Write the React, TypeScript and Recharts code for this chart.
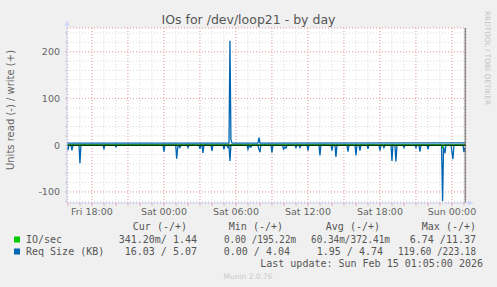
// @ts-nocheck
import React from "react";
import { LineChart, Line, XAxis, YAxis, CartesianGrid, ReferenceLine } from "recharts";

const W = 497;
const H = 287;

// hours relative to Sat 00:00
const X_DOMAIN = [-8.08, 25.17];
const Y_DOMAIN = [-123.6, 250.7];

const xLabelTicks = [-6, 0, 6, 12, 18, 24];
const xTickLabels = ["Fri 18:00", "Sat 00:00", "Sat 06:00", "Sat 12:00", "Sat 18:00", "Sun 00:00"];
const yLabelTicks = [-100, 0, 100, 200];

const minorHours = Array.from({ length: 34 }, (_, i) => i - 8);
const majorHours = [-6, -3, 0, 3, 6, 9, 12, 15, 18, 21, 24];
const minorY = Array.from({ length: 19 }, (_, i) => -120 + i * 20);

// Req Size (KB), read side (drawn negative)
const reqRead = [
  [-8.08, -3], [-8.0, -10.7], [-7.92, 0], [-7.75, 0], [-7.67, -11], [-7.58, 0],
  [-7.08, 0], [-7.0, -38.6], [-6.92, 0], [-5.08, 0], [-5.0, -7], [-4.92, 0],
  [-4.08, 0], [-4.0, -3.6], [-3.92, 0], [-0.08, 0], [0, -14], [0.08, 0],
  [0.98, 0], [1.06, -29], [1.15, -4], [1.25, 0], [1.33, -5], [1.42, 0],
  [1.92, 0], [2.0, -5], [2.08, 0], [2.92, 0], [3.0, -8], [3.08, 0], [3.17, 0], [3.25, -16.4], [3.33, 0],
  [3.92, 0], [4.0, -12], [4.08, 0], [4.92, 0], [5.0, -8.6], [5.08, 0],
  [5.25, 0], [5.33, -5], [5.42, -2], [5.5, -33.5], [5.58, 0],
  [6.92, 0], [7.0, -8.6], [7.08, -2], [7.17, -3], [7.25, -4], [7.33, 0],
  [7.83, 0], [7.92, -8.6], [8.0, -15], [8.08, 0], [8.92, 0], [9.0, -15.7], [9.08, 0],
  [9.88, 0], [9.97, -8.6], [10.08, -4], [10.17, -6], [10.25, 0],
  [10.92, 0], [11.0, -5], [11.08, 0], [11.25, 0], [11.33, -5], [11.42, 0],
  [11.92, 0], [12.0, -11.4], [12.08, 0], [12.92, 0], [13.0, -22], [13.08, 0],
  [13.92, 0], [14.0, -11.4], [14.08, 0], [14.25, 0], [14.33, -25], [14.42, 0],
  [15.25, 0], [15.33, -14], [15.42, 0], [15.92, 0], [16.0, -22], [16.08, 0],
  [16.25, 0], [16.33, -11.4], [16.42, 0], [16.92, 0], [17.0, -8], [17.08, 0],
  [17.92, 0], [18.0, -11.4], [18.08, 0], [18.25, 0], [18.33, -5], [18.42, 0],
  [18.92, 0], [19.0, -33.5], [19.08, 0], [19.25, 0], [19.33, -35], [19.42, 0],
  [19.92, 0], [20.0, -5], [20.08, 0], [20.92, 0], [21.0, -5], [21.08, 0],
  [21.25, 0], [21.33, -13.6], [21.42, 0], [21.92, 0], [22.0, -8.6], [22.08, 0],
  [23.13, 0], [23.22, -119.6], [23.3, -3], [23.42, -17], [23.5, 0],
  [23.92, 0], [24.08, -30], [24.17, 0], [24.92, 0], [25.0, -15], [25.08, -6],
];

// Req Size (KB), write side
const reqWrite = [
  [-8.08, 4.5], [5.42, 4.5], [5.5, 223.18], [5.58, 12], [5.67, 4.5],
  [7.83, 4.5], [7.92, 16.5], [8.0, 4.5], [25.08, 5.07],
];

// IO/sec write side: small bumps on a low baseline
const ioWriteBase = 0.2;
const ioWriteBumps = [
  [-7.96, 2.4], [-7.63, 2.4], [-6.96, 2.4], [-6.63, 2.4], [-5.96, 2.4], [-5.63, 2.4],
  [-4.96, 2.4], [-4.63, 2.4], [-3.96, 2.4], [-3.63, 2.4], [-2.96, 2.4], [-2.63, 2.4],
  [-1.96, 2.4], [-1.63, 2.4], [-0.96, 2.4], [-0.63, 2.4], [0.04, 2.4], [0.37, 2.4],
  [1.04, 2.4], [1.37, 2.4], [2.04, 2.4], [2.37, 2.4], [3.04, 2.4], [3.37, 2.4],
  [4.04, 2.4], [4.37, 2.4], [5.04, 2.4], [5.37, 2.4], [6.04, 2.4], [6.37, 2.4],
  [7.04, 2.4], [7.37, 2.4], [8.04, 2.4], [8.37, 2.4], [9.04, 2.4], [9.37, 2.4],
  [10.04, 2.4], [10.37, 2.4], [11.04, 2.4], [11.37, 2.4], [12.04, 2.4], [12.37, 2.4],
  [13.04, 2.4], [13.37, 2.4], [14.04, 2.4], [14.37, 2.4], [15.04, 2.4], [15.37, 2.4],
  [16.04, 2.4], [16.37, 2.4], [17.04, 2.4], [17.37, 2.4], [18.04, 2.4], [18.37, 2.4],
  [19.04, 2.4], [19.37, 2.4], [20.04, 2.4], [20.37, 2.4], [21.04, 2.4], [21.37, 2.4],
  [22.04, 2.4], [22.37, 2.4], [23.04, 2.4], [23.37, 2.4], [24.04, 2.4], [24.37, 2.4],
  [25.04, 2.4],
];

// IO/sec read side (drawn negative)
const ioReadDips = [
  [-7.0, -2], [1.06, -1.5], [5.5, -2], [19.0, -2], [19.33, -2], [23.22, -6.74], [24.08, -2],
];

const legendHeader = [["Cur (-/+)", 187], ["Min (-/+)", 283], ["Avg (-/+)", 380], ["Max (-/+)", 476]];
// [text, right edge, squeezed width (the original prints some cells one char too tight)]
const legendRows = [
  {
    name: "IO/sec",
    color: "#00cc00",
    cells: [["341.20m/ 1.44", 197], ["0.00 /195.22m", 296, 72], ["60.34m/372.41m", 390, 79], ["6.74 /11.37", 476]],
  },
  {
    name: "Req Size (KB)",
    color: "#0066b3",
    cells: [["16.03 / 5.07", 197], ["0.00 / 4.04", 290], ["1.95 / 4.74", 383], ["119.60 /223.18", 476, 78]],
  },
];

const toPts = (arr) => arr.map(([h, v]) => ({ h, v }));
const bumpsToPts = (base, arr) => {
  const out = [{ h: X_DOMAIN[0], v: base }];
  arr.forEach(([h, v]) => {
    out.push({ h: h - 0.05, v: base }, { h, v }, { h: h + 0.05, v: base });
  });
  out.push({ h: 25.08, v: base });
  return out;
};

const FONT = "'DejaVu Sans', sans-serif";
const MONO = "'DejaVu Sans Mono', monospace";

export default function App() {
  const xFmt = (v) => {
    const i = xLabelTicks.indexOf(v);
    return i >= 0 ? xTickLabels[i] : "";
  };
  const yFmt = (v) => (yLabelTicks.includes(v) ? String(v) : "");

  return (
    <div style={{ position: "absolute", left: 0, top: 0, width: W, height: H, background: "#f0f0f0", overflow: "hidden" }}>
      <LineChart width={W} height={H} margin={{ top: 28, right: 31, bottom: 64, left: 27 }}>
        <CartesianGrid fill="#ffffff" stroke="#d9d9d9" strokeDasharray="1 2" />
        <CartesianGrid xAxisId="major" yAxisId="major" fill="none" stroke="#eba3a3" strokeDasharray="1 2" />
        <XAxis
          dataKey="h"
          type="number"
          domain={X_DOMAIN}
          allowDataOverflow
          ticks={minorHours}
          interval={0}
          tickFormatter={xFmt}
          tickSize={3}
          tickMargin={2}
          tickLine={{ stroke: "#e0b0b0" }}
          axisLine={{ stroke: "#cfd6f8" }}
          tick={{ fontSize: 9.5, fill: "#666", fontFamily: FONT }}
          height={20}
        />
        <XAxis xAxisId="major" dataKey="h" type="number" domain={X_DOMAIN} allowDataOverflow ticks={majorHours} hide />
        <YAxis
          type="number"
          domain={Y_DOMAIN}
          allowDataOverflow
          ticks={minorY}
          interval={0}
          tickFormatter={yFmt}
          tickSize={2}
          tickMargin={5}
          tickLine={{ stroke: "#c8c8c8" }}
          axisLine={{ stroke: "#cfd6f8" }}
          tick={{ fontSize: 9.5, fill: "#666", fontFamily: FONT }}
          width={40}
        />
        <YAxis yAxisId="major" type="number" domain={Y_DOMAIN} allowDataOverflow ticks={yLabelTicks} hide />
        <Line data={toPts(reqRead)} dataKey="v" type="linear" stroke="#0066b3" strokeWidth={1.3} dot={false} isAnimationActive={false} />
        <Line data={toPts(reqWrite)} dataKey="v" type="linear" stroke="#0066b3" strokeWidth={1.3} dot={false} isAnimationActive={false} />
        <Line data={bumpsToPts(0, ioReadDips)} dataKey="v" type="linear" stroke="#00cc00" strokeWidth={1} dot={false} isAnimationActive={false} />
        <Line data={bumpsToPts(ioWriteBase, ioWriteBumps)} dataKey="v" type="linear" stroke="#00cc00" strokeWidth={1} dot={false} isAnimationActive={false} />
        <ReferenceLine y={0} stroke="#000000" strokeWidth={1} />
        <ReferenceLine x={25.1} stroke="#555555" strokeWidth={1} />
      </LineChart>
      <svg width={W} height={H} style={{ position: "absolute", left: 0, top: 0, pointerEvents: "none" }}>
        <text x={248.5} y={23.5} textAnchor="middle" fontSize={12.5} fill="#555" fontFamily={FONT}>
          IOs for /dev/loop21 - by day
        </text>
        <text x={13.6} y={110} transform="rotate(-90 13.6 110)" textAnchor="middle" fontSize={10} fill="#666" fontFamily={FONT}>
          Units read (-) / write (+)
        </text>
        <text x={484.5} y={58} transform="rotate(90 484.5 58)" textAnchor="middle" fontSize={7.3} fill="#c4c4c4" fontFamily={FONT}>
          RRDTOOL / TOBI OETIKER
        </text>
        <line x1={67} y1={28} x2={67} y2={24} stroke="#cfd6f8" />
        <polygon points="67,20 64.5,26 69.5,26" fill="#cfd6f8" />
        <line x1={466} y1={203} x2={469} y2={203} stroke="#cfd6f8" />
        <polygon points="474,203 468,200.5 468,205.5" fill="#cfd6f8" />
        {legendHeader.map(([t, x]) => (
          <text key={t} x={x} y={230.3} textAnchor="end" fontSize={10} fill="#555" fontFamily={MONO} style={{ whiteSpace: "pre" }}>
            {t}
          </text>
        ))}
        {legendRows.map((r, i) => (
          <g key={r.name}>
            <rect x={14} y={236.5 + i * 12} width={6} height={6} fill={r.color} />
            <text x={26} y={243 + i * 12} fontSize={10} fill="#555" fontFamily={MONO} style={{ whiteSpace: "pre" }}>
              {r.name}
            </text>
            {r.cells.map(([t, x, len], j) =>
              len ? (
                <text key={j} x={x - len} y={243 + i * 12} textLength={len} lengthAdjust="spacingAndGlyphs" fontSize={10} fill="#555" fontFamily={MONO} style={{ whiteSpace: "pre" }}>
                  {t}
                </text>
              ) : (
                <text key={j} x={x} y={243 + i * 12} textAnchor="end" fontSize={10} fill="#555" fontFamily={MONO} style={{ whiteSpace: "pre" }}>
                  {t}
                </text>
              )
            )}
          </g>
        ))}
        <text x={483} y={267} textAnchor="end" fontSize={10} fill="#555" fontFamily={MONO}>
          Last update: Sun Feb 15 01:05:00 2026
        </text>
        <text x={248} y={279} textAnchor="middle" fontSize={7.5} fill="#c8c8c8" fontFamily={FONT}>
          Munin 2.0.76
        </text>
      </svg>
    </div>
  );
}
